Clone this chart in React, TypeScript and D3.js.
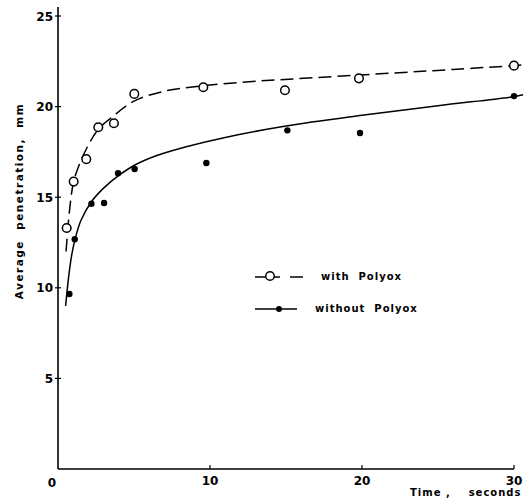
import React from "react";
import * as d3 from "d3";

const withX = [0.57, 1.03, 1.86, 2.65, 3.68, 5.02, 9.56, 14.93, 19.8, 30];
const withY = [13.3, 15.86, 17.1, 18.86, 19.08, 20.7, 21.07, 20.9, 21.56, 22.26];
const withoutX = [0.75, 1.1, 2.2, 3.03, 3.95, 5.04, 9.76, 15.09, 19.87, 30];
const withoutY = [9.66, 12.68, 14.64, 14.68, 16.32, 16.56, 16.89, 18.69, 18.54, 20.58];

const withCurveX = [0.53, 0.75, 1.03, 1.45, 1.95, 2.65, 3.6, 5, 7, 9.56, 13, 17, 22, 26, 30, 30.6];
const withCurveY = [12.0, 14.2, 15.86, 16.9, 17.8, 18.75, 19.45, 20.3, 20.85, 21.15, 21.4, 21.6, 21.85, 22.05, 22.26, 22.3];
const withoutCurveX = [0.5, 0.7, 0.9, 1.1, 1.5, 2.2, 3, 4, 5, 6.5, 8.5, 11, 15, 20, 25, 30, 30.6];
const withoutCurveY = [9.0, 10.6, 11.8, 12.6, 13.7, 14.75, 15.5, 16.2, 16.75, 17.3, 17.8, 18.3, 18.93, 19.52, 20.05, 20.55, 20.65];

const xTicks = [10, 20, 30];
const yTicks = [5, 10, 15, 20, 25];

const FONT = "'DejaVu Sans', sans-serif";

export default function App() {
  const x = d3.scaleLinear().domain([0, 30]).range([58, 514]);
  const y = d3.scaleLinear().domain([0, 25]).range([469, 16]);

  const pts = (xs: number[], ys: number[]) => xs.map((v, i) => [x(v), y(ys[i])] as [number, number]);
  const line = d3.line().curve(d3.curveCatmullRom.alpha(0.5));
  const dashedPath = line(pts(withCurveX, withCurveY)) || "";
  const solidPath = line(pts(withoutCurveX, withoutCurveY)) || "";

  return (
    <svg width={527} height={502} style={{ position: "absolute", left: 0, top: 0, background: "#fff" }}>
      {/* axes */}
      <line x1={x(0)} y1={7} x2={x(0)} y2={y(0)} stroke="#000" strokeWidth={1.6} />
      <line x1={x(0)} y1={y(0)} x2={x(30)} y2={y(0)} stroke="#000" strokeWidth={1.6} />
      {yTicks.map((t) => (
        <g key={"y" + t}>
          <line x1={x(0) - 3} x2={x(0) + 3} y1={y(t)} y2={y(t)} stroke="#000" strokeWidth={1.2} />
          <text x={x(0) - 5} y={y(t) + 4.5} textAnchor="end" fontFamily={FONT} fontSize={12} fontWeight="bold">
            {t}
          </text>
        </g>
      ))}
      {xTicks.map((t) => (
        <g key={"x" + t}>
          <line x1={x(t)} x2={x(t)} y1={y(0)} y2={y(0) - 4} stroke="#000" strokeWidth={1.2} />
          <text x={x(t)} y={y(0) + 16} textAnchor="middle" fontFamily={FONT} fontSize={12} fontWeight="bold">
            {t}
          </text>
        </g>
      ))}
      <text x={52} y={487} textAnchor="middle" fontFamily={FONT} fontSize={12} fontWeight="bold">0</text>

      {/* axis labels */}
      <text
        transform="translate(23,201) rotate(-90)"
        textAnchor="middle"
        fontFamily={FONT}
        fontSize={10.5}
        fontWeight="bold"
        letterSpacing={1.5}
        xmlSpace="preserve"
      >
        Average  penetration,  mm
      </text>
      <text x={410} y={496} fontFamily={FONT} fontSize={10} fontWeight="bold" letterSpacing={1} xmlSpace="preserve">
        Time ,    seconds
      </text>

      {/* curves */}
      <path d={dashedPath} fill="none" stroke="#000" strokeWidth={1.5} strokeDasharray="13 6" />
      <path d={solidPath} fill="none" stroke="#000" strokeWidth={1.5} />

      {/* points */}
      {withX.map((v, i) => (
        <circle key={"w" + i} cx={x(v)} cy={y(withY[i])} r={4.3} fill="#fff" stroke="#000" strokeWidth={1.5} />
      ))}
      {withoutX.map((v, i) => (
        <circle key={"wo" + i} cx={x(v)} cy={y(withoutY[i])} r={3.2} fill="#000" />
      ))}

      {/* legend */}
      <line x1={255} x2={280} y1={277} y2={277} stroke="#000" strokeWidth={1.5} />
      <line x1={290} x2={303} y1={277} y2={277} stroke="#000" strokeWidth={1.5} />
      <circle cx={270} cy={276} r={4.3} fill="#fff" stroke="#000" strokeWidth={1.5} />
      <text x={321} y={280} fontFamily={FONT} fontSize={10} fontWeight="bold" letterSpacing={1} xmlSpace="preserve">
        with  Polyox
      </text>
      <line x1={255} x2={297} y1={309} y2={309} stroke="#000" strokeWidth={1.5} />
      <circle cx={279} cy={309} r={3} fill="#000" />
      <text x={315} y={312} fontFamily={FONT} fontSize={10} fontWeight="bold" letterSpacing={1} xmlSpace="preserve">
        without  Polyox
      </text>
    </svg>
  );
}
